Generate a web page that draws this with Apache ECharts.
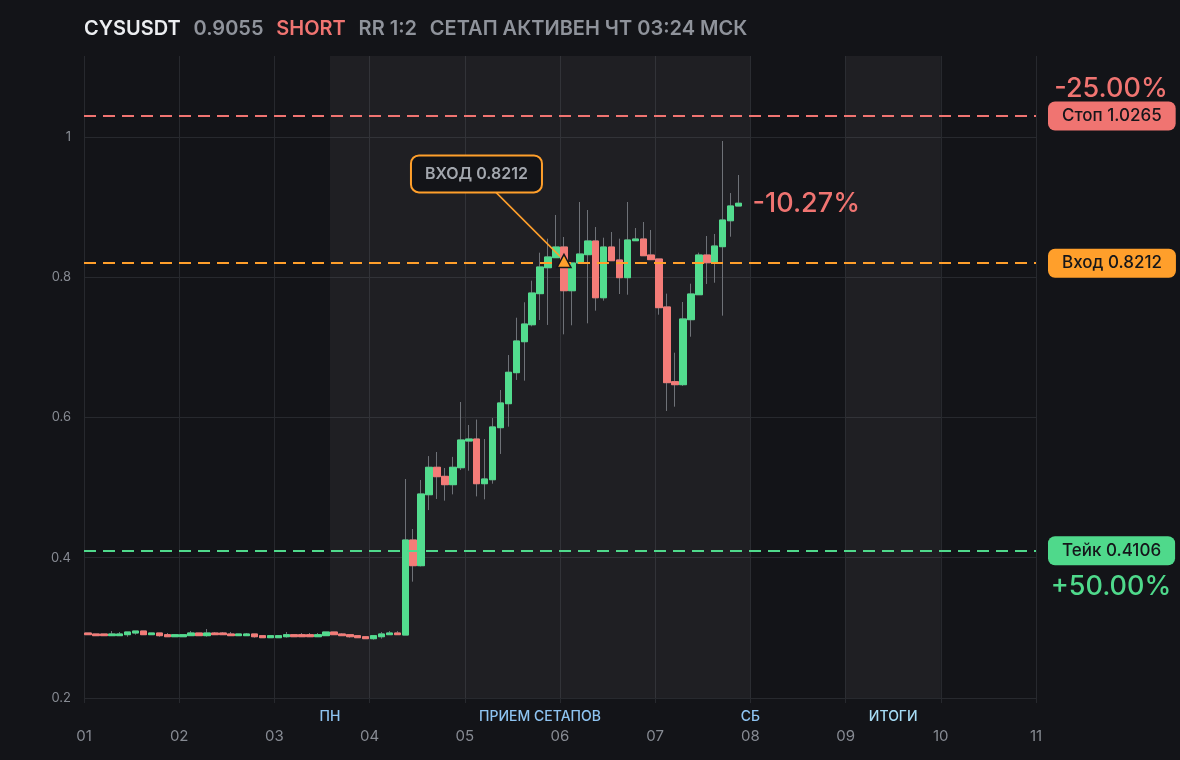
<!DOCTYPE html>
<html><head><meta charset="utf-8">
<script src="https://cdn.jsdelivr.net/npm/echarts@6/dist/echarts.min.js"></script>
<style>html,body{margin:0;padding:0;background:#131418;}#c{width:1180px;height:760px;}</style>
</head><body><div id="c"></div>
<script>
// ---- data ----
const dayLabels = ['01','02','03','04','05','06','07','08','09','10','11'];
const candlesPerDay = 12; // 2h candles, first candle starts at day 01
const opens = [
 0.2927,0.2913,0.2913,0.2889,0.2889,0.2903,0.2927,0.2955,0.2903,0.2927,
 0.2903,0.2874,0.2874,0.2889,0.2927,0.2889,0.2927,0.2927,0.2913,0.2889,
 0.2889,0.2913,0.2889,0.2860,0.2860,0.2874,0.2903,0.2903,0.2903,0.2874,
 0.2889,0.2941,0.2913,0.2903,0.2889,0.2874,0.2846,0.2874,0.2903,0.2927,
 0.2898,0.4253,0.3887,0.4899,0.5290,0.5161,0.5042,0.5284,0.5665,0.5693,
 0.5056,0.5113,0.5855,0.6197,0.6639,0.7081,0.7323,0.7766,0.8136,0.8279,
 0.8431,0.7808,0.8203,0.8322,0.8517,0.7708,0.8431,0.8246,0.7994,0.8521,
 0.8545,0.8317,0.8260,0.7576,0.6511,0.6468,0.7395,0.7751,0.8317,0.8207,
 0.8436,0.8806,0.9016];
const closes = [
 0.2903,0.2889,0.2889,0.2913,0.2913,0.2941,0.2955,0.2903,0.2927,0.2889,
 0.2874,0.2903,0.2903,0.2927,0.2889,0.2927,0.2903,0.2903,0.2889,0.2913,
 0.2913,0.2874,0.2860,0.2889,0.2889,0.2903,0.2874,0.2874,0.2874,0.2903,
 0.2941,0.2903,0.2889,0.2874,0.2860,0.2846,0.2889,0.2913,0.2927,0.2903,
 0.4253,0.3887,0.4909,0.5290,0.5156,0.5042,0.5290,0.5679,0.5693,0.5056,
 0.5123,0.5865,0.6207,0.6645,0.7091,0.7333,0.7775,0.8146,0.8289,0.8431,
 0.7808,0.8203,0.8331,0.8517,0.7708,0.8431,0.8236,0.7994,0.8531,0.8545,
 0.8307,0.8251,0.7566,0.6497,0.6468,0.7405,0.7761,0.8317,0.8207,0.8445,
 0.8816,0.9016,0.9055];
const lows = [
 0.2903,0.2889,0.2889,0.2889,0.2889,0.2874,0.2903,0.2903,0.2903,0.2874,
 0.2874,0.2874,0.2874,0.2889,0.2889,0.2874,0.2903,0.2903,0.2889,0.2889,
 0.2889,0.2860,0.2860,0.2860,0.2860,0.2860,0.2874,0.2874,0.2874,0.2874,
 0.2889,0.2903,0.2889,0.2860,0.2860,0.2846,0.2832,0.2846,0.2903,0.2903,
 0.2898,0.3659,0.3876,0.4680,0.4838,0.4814,0.4904,0.5251,0.5241,0.4875,
 0.4833,0.5056,0.5480,0.5869,0.6535,0.6525,0.7300,0.7390,0.7320,0.8279,
 0.7186,0.7315,0.8203,0.7343,0.7523,0.7666,0.8236,0.7761,0.7751,0.8521,
 0.8307,0.8251,0.7466,0.6093,0.6154,0.6450,0.7152,0.7751,0.7904,0.7922,
 0.7452,0.8578,0.9016];
const highs = [
 0.2927,0.2913,0.2913,0.2955,0.2941,0.2941,0.2955,0.2955,0.2927,0.2927,
 0.2927,0.2903,0.2903,0.2955,0.2927,0.2984,0.2941,0.2941,0.2941,0.2913,
 0.2927,0.2913,0.2889,0.2889,0.2889,0.2941,0.2903,0.2927,0.2927,0.2927,
 0.2941,0.2941,0.2927,0.2903,0.2889,0.2874,0.2889,0.2941,0.2955,0.2955,
 0.5123,0.4410,0.5109,0.5450,0.5508,0.5280,0.5438,0.6221,0.5893,0.5971,
 0.5693,0.5993,0.6392,0.6891,0.7423,0.7643,0.7951,0.8350,0.8550,0.8888,
 0.8574,0.8203,0.9073,0.8959,0.8716,0.8564,0.8645,0.8550,0.9073,0.8702,
 0.8788,0.8674,0.8260,0.7766,0.6924,0.7647,0.7908,0.8350,0.8588,0.8617,
 0.9943,0.9201,0.9458];
const yTicks = [0.2, 0.4, 0.6, 0.8, 1];
const ticker = 'CYSUSDT', lastPrice = 0.9055, side = 'SHORT', rr = 'RR 1:2', status = 'СЕТАП АКТИВЕН ЧТ 03:24 МСК';
const stopPrice = 1.0265, entryPrice = 0.8212, takePrice = 0.4106;
const stopPct = '-25.00%', takePct = '+50.00%', livePct = '-10.27%';
const entryCandle = 60;
const zones = [{name:'ПРИЕМ СЕТАПОВ', from:3.583, to:8}, {name:'ИТОГИ', from:9, to:10}];
const zoneTags = [{name:'ПН', at:3.583, color:'#8ec4f2'}, {name:'ПРИЕМ СЕТАПОВ', at:5.79, color:'#8ec4f2'}, {name:'СБ', at:8, color:'#8ec4f2'}, {name:'ИТОГИ', at:9.5, color:'#a6dcf4'}];

// ---- colours ----
const BG='#131418', GRID='#27292e', LBL='#878b93', UP='#52dc8e', DOWN='#f47c78', WICK='#6e7177';
const RED='#f07471', ORANGE='#ff9f2b', GREEN='#4fd98b';
const FONT='Inter';

const xOf = i => 1 + (i + 0.5) / candlesPerDay;
const wickData = opens.map((o,i)=>[xOf(i), o, closes[i], lows[i], highs[i]]);
const bodyData = opens.map((o,i)=>[xOf(i), o, closes[i], Math.min(o,closes[i]), Math.max(o,closes[i])]);

const chart = echarts.init(document.getElementById('c'));
const badge = (txt,bg)=>({show:true, position:'end', distance:12, formatter:txt, backgroundColor:bg, color:'#15161a',
  padding:[6,14,5,14], borderRadius:7, fontSize:17, fontWeight:500, fontFamily:FONT, lineHeight:18});

chart.setOption({
  backgroundColor: BG,
  animation: false,
  textStyle:{fontFamily:FONT},
  title: {
    left: 84, top: 19, padding: 0,
    text: `{a|${ticker}}   {b|${lastPrice}}   {c|${side}}   {b|${rr}}   {b|${status}}`,
    textStyle: { rich: {
      a:{color:'#eceef1', fontSize:20, fontWeight:600, fontFamily:FONT},
      b:{color:'#8f939b', fontSize:20, fontWeight:600, fontFamily:FONT},
      c:{color:RED, fontSize:20, fontWeight:600, fontFamily:FONT}
    }}
  },
  grid: {left:84, right:144, top:56, bottom:62},
  xAxis: {
    type:'value', min:1, max:11, interval:1,
    axisLine:{show:false},
    axisTick:{show:true, length:5, lineStyle:{color:GRID}},
    splitLine:{show:true, lineStyle:{color:GRID, width:1}},
    axisLabel:{color:LBL, fontSize:15, margin:31, fontFamily:FONT, formatter:v=>dayLabels[Math.round(v)-1] || ''}
  },
  yAxis: {
    type:'value', min:0.2, max:1.1155, interval:0.2,
    axisLine:{show:false}, axisTick:{show:false},
    splitLine:{show:true, showMaxLine:false, lineStyle:{color:GRID, width:1}},
    axisLabel:{color:LBL, fontSize:13, margin:13, fontFamily:FONT,
      formatter:v=>{ const t = yTicks.find(k=>Math.abs(k-v)<1e-6); return t===undefined ? '' : String(t); }}
  },
  series: [
    {
      type:'candlestick', name:'wick', data:wickData, barWidth:7, z:2,
      itemStyle:{color:'transparent', color0:'transparent', borderColor:WICK, borderColor0:WICK, borderWidth:1},
      markArea:{silent:true, itemStyle:{color:'rgba(255,255,255,0.05)'},
        data: zones.map(z=>[{xAxis:z.from},{xAxis:z.to}])}
    },
    {
      type:'candlestick', name:'body', data:bodyData, barWidth:7, z:3,
      itemStyle:{color:UP, color0:DOWN, borderColor:UP, borderColor0:DOWN, borderWidth:1},
      markLine:{silent:true, symbol:['none','none'],
        data:[
          {yAxis:stopPrice, lineStyle:{color:RED, type:[12,7], width:2}, label:badge('Стоп '+stopPrice, RED)},
          {yAxis:entryPrice, lineStyle:{color:ORANGE, type:[12,7], width:2}, label:badge('Вход '+entryPrice, ORANGE)},
          {yAxis:takePrice, lineStyle:{color:GREEN, type:[12,7], width:2}, label:badge('Тейк '+takePrice, GREEN)}
        ]}
    }
  ]
});

function drawOverlays(){
  const P = v => chart.convertToPixel({gridIndex:0}, v);
  const g = [];
  const bottom = P([1, 0.2])[1];
  zoneTags.forEach(t=>{
    const p = P([t.at, 0.2]);
    g.push({type:'text', x:p[0], y:bottom+19, style:{text:t.name, fill:t.color, font:`500 14px ${FONT}`, textAlign:'center', textVerticalAlign:'middle'}, z:10});
  });
  const right = P([11, 0.2])[0];
  const ps = P([11, stopPrice]), pt = P([11, takePrice]);
  g.push({type:'text', x:right+75, y:ps[1]-30, style:{text:stopPct, fill:RED, font:`500 27px ${FONT}`, textAlign:'center', textVerticalAlign:'middle'}, z:10});
  g.push({type:'text', x:right+75, y:pt[1]+37, style:{text:takePct, fill:GREEN, font:`500 27px ${FONT}`, textAlign:'center', textVerticalAlign:'middle'}, z:10});
  const last = opens.length-1;
  const pl = P([xOf(last), closes[last]]);
  g.push({type:'text', x:pl[0]+14, y:pl[1]+1, style:{text:livePct, fill:RED, font:`500 27px ${FONT}`, textAlign:'left', textVerticalAlign:'middle'}, z:10});
  // entry marker
  const pe = P([xOf(entryCandle), entryPrice]);
  g.push({type:'line', shape:{x1:pe[0]-69, y1:pe[1]-71, x2:pe[0]-4, y2:pe[1]-6}, style:{stroke:ORANGE, lineWidth:1.5}, z:11});
  g.push({type:'polygon', shape:{points:[[pe[0],pe[1]-8],[pe[0]+7,pe[1]+5],[pe[0]-7,pe[1]+5]]}, style:{fill:ORANGE, stroke:'#15161a', lineWidth:1.5}, z:12});
  g.push({type:'rect', shape:{x:pe[0]-153, y:pe[1]-107, width:131, height:37, r:8}, style:{fill:BG, stroke:ORANGE, lineWidth:2}, z:11});
  g.push({type:'text', x:pe[0]-87.5, y:pe[1]-88.5, style:{text:'ВХОД '+entryPrice, fill:'#a3a7ae', font:`600 16px ${FONT}`, textAlign:'center', textVerticalAlign:'middle'}, z:12});
  chart.setOption({graphic:{elements:g}});
}
drawOverlays();
</script>
</body></html>
